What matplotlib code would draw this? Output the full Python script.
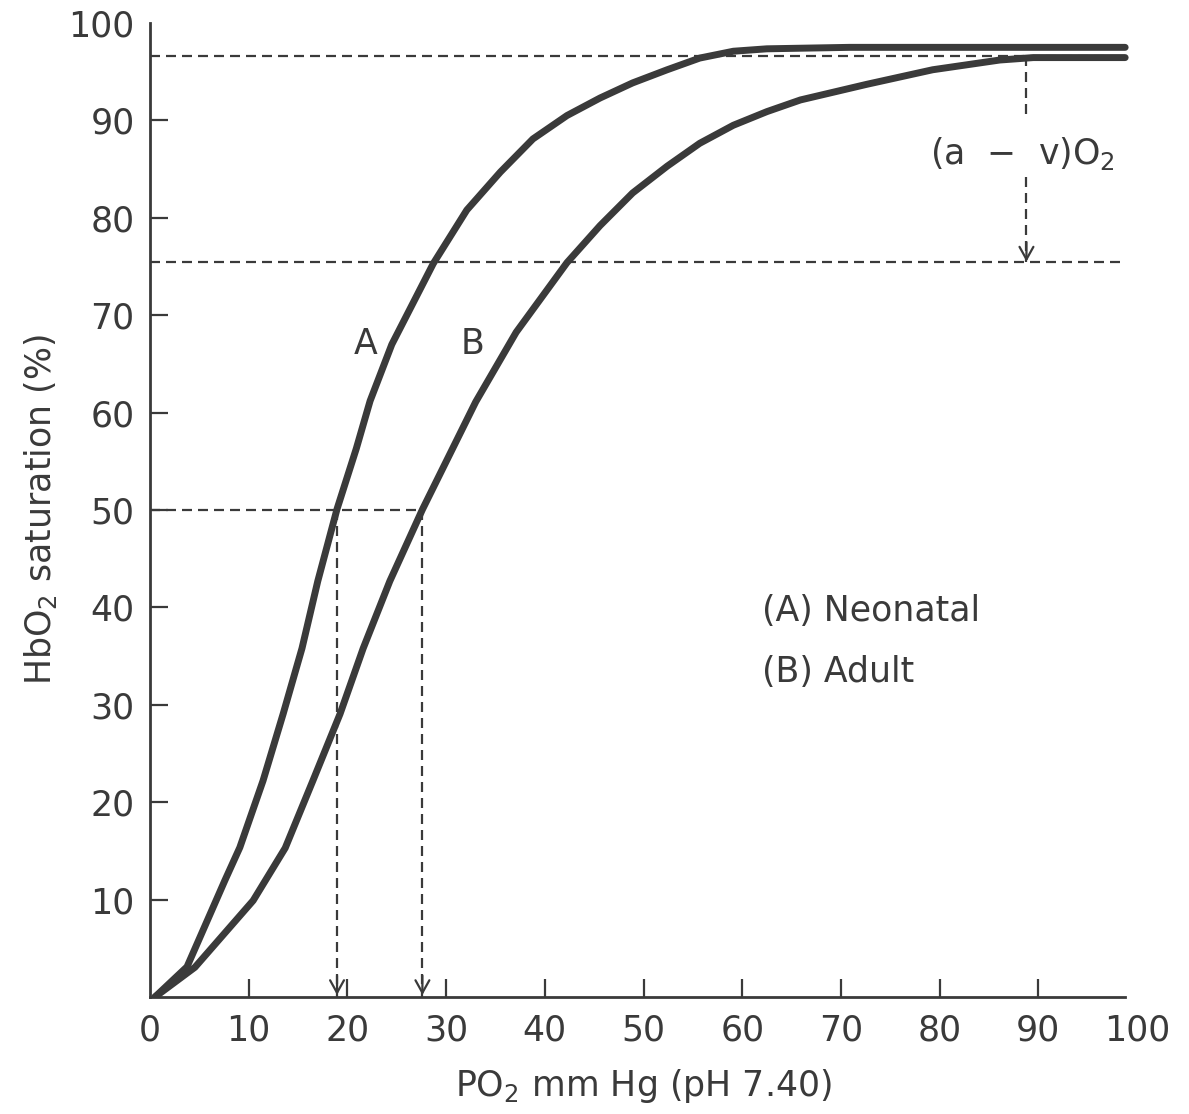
import matplotlib.pyplot as plt

plt.rcParams.update({
    "font.family": "DejaVu Sans",
    "mathtext.fontset": "dejavusans",
})
font_size = 25
ink = "#3a3a3a"

# values (PO2 in mm Hg, saturation in %)
neonatal_po2 = [0.5, 3.75, 7.6, 9.1, 11.45, 13.5, 15.4, 17.0, 18.95, 20.9, 22.3, 24.5,
                28.7, 32.1, 35.5, 38.8, 42.25, 45.6, 48.9, 52.4, 55.7, 59.1, 62.5,
                70.9, 86.1, 98.8]
neonatal_sat = [0.0, 3.1, 12.0, 15.35, 22.2, 29.1, 35.8, 42.7, 50.1, 56.3, 61.2, 67.0,
                75.3, 80.8, 84.7, 88.1, 90.5, 92.3, 93.85, 95.2, 96.4, 97.1, 97.35,
                97.5, 97.5, 97.5]
adult_po2 = [0.5, 4.55, 10.45, 13.7, 16.5, 19.25, 21.6, 24.3, 27.6, 33.0, 37.1, 42.25,
             45.6, 48.9, 52.4, 55.7, 59.1, 62.5, 65.9, 72.6, 79.3, 86.1, 89.5, 98.8]
adult_sat = [0.0, 3.05, 9.9, 15.3, 22.2, 29.05, 35.8, 42.7, 50.05, 61.1, 68.25, 75.4,
             79.2, 82.55, 85.3, 87.65, 89.5, 90.9, 92.1, 93.7, 95.2, 96.2, 96.45, 96.45]

arterial_sat = 96.6
venous_sat = 75.5
half_sat = 50
p50_neonatal = 18.95
p50_adult = 27.6
av_po2 = 88.8
av_gap = (90.0, 84.2)
x_end = 98.8

x_ticks = list(range(0, 101, 10))
y_ticks = list(range(10, 101, 10))

fig = plt.figure(figsize=(11.89, 11.14), dpi=100)
ax = fig.add_axes([150 / 1189, 117 / 1114, 987 / 1189, 974 / 1114])
ax.set_xlim(0, 100)
ax.set_ylim(0, 100)

# dashed guide lines
dash = dict(color=ink, lw=1.6, dashes=(4.5, 2.7), zorder=2)
ax.plot([0, x_end], [arterial_sat, arterial_sat], **dash)
ax.plot([0, x_end], [venous_sat, venous_sat], **dash)
ax.plot([0, p50_adult], [half_sat, half_sat], **dash)
ax.plot([p50_neonatal, p50_neonatal], [half_sat, 0], **dash)
ax.plot([p50_adult, p50_adult], [half_sat, 0], **dash)
ax.plot([av_po2, av_po2], [arterial_sat, av_gap[0]], **dash)
ax.plot([av_po2, av_po2], [av_gap[1], venous_sat], **dash)

head = dict(arrowstyle="->,head_length=0.45,head_width=0.25", color=ink, lw=1.6,
            mutation_scale=20, shrinkA=0, shrinkB=0)
for xx, yy in [(p50_neonatal, 0.2), (p50_adult, 0.2), (av_po2, venous_sat)]:
    ax.annotate("", xy=(xx, yy), xytext=(xx, yy + 2.0), arrowprops=head, zorder=3)

# curves
ax.plot(neonatal_po2, neonatal_sat, color=ink, lw=5, solid_capstyle="round",
        solid_joinstyle="round", zorder=4)
ax.plot(adult_po2, adult_sat, color=ink, lw=5, solid_capstyle="round",
        solid_joinstyle="round", zorder=4)

# labels on the plot
ax.text(21.8, 67.0, "A", fontsize=font_size, color=ink, ha="center", va="center")
ax.text(32.7, 67.0, "B", fontsize=font_size, color=ink, ha="center", va="center")
ax.text(62.0, 39.6, "(A) Neonatal", fontsize=font_size, color=ink, ha="left", va="center")
ax.text(62.0, 33.4, "(B) Adult", fontsize=font_size, color=ink, ha="left", va="center")
ax.text(88.4, 86.6, r"(a  $-$  v)O$_\mathrm{2}$", fontsize=font_size, color=ink,
        ha="center", va="center")

# axes
for side in ["top", "right"]:
    ax.spines[side].set_visible(False)
for side in ["left", "bottom"]:
    ax.spines[side].set_linewidth(2)
    ax.spines[side].set_color(ink)
ax.spines["bottom"].set_bounds(0, x_end)

ax.set_xticks(x_ticks)
ax.set_xticklabels([str(t) for t in x_ticks])
ax.set_yticks(y_ticks)
ax.set_yticklabels([str(t) for t in y_ticks])
ax.set_xticks(x_ticks[1:-1], minor=True)
ax.set_yticks(y_ticks[:-1], minor=True)
ax.xaxis.remove_overlapping_locs = False
ax.yaxis.remove_overlapping_locs = False
ax.tick_params(which="major", length=0, labelsize=font_size, labelcolor=ink, direction="in")
ax.tick_params(axis="x", which="major", pad=12)
ax.tick_params(axis="y", which="major", pad=11)
ax.tick_params(which="minor", length=13, width=1.6, color=ink, direction="in")

ax.set_xlabel(r"PO$_\mathrm{2}$ mm Hg (pH 7.40)", fontsize=font_size, color=ink)
ax.set_ylabel(r"HbO$_\mathrm{2}$ saturation (%)", fontsize=font_size, color=ink)
ax.xaxis.set_label_coords(0.5, -0.072)
ax.yaxis.set_label_coords(-0.092, 0.5)

fig.savefig("out.png", dpi=100)
